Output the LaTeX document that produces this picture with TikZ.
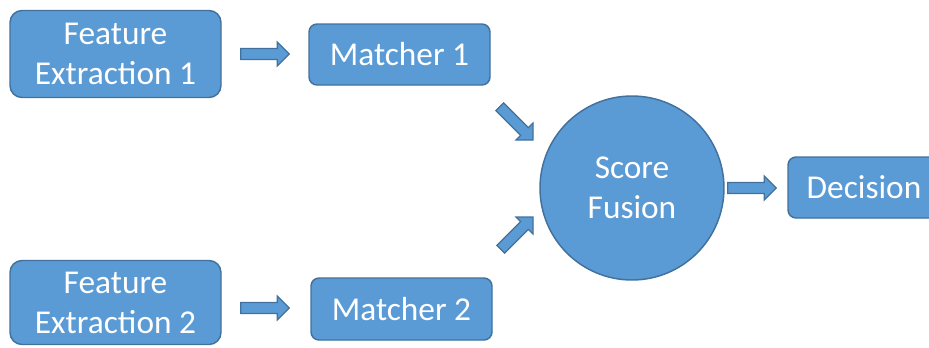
\documentclass[tikz,border=0pt]{standalone}
\usepackage{fontspec}
\setmainfont{Carlito}
\usetikzlibrary{calc}

\definecolor{boxfill}{HTML}{5B9BD5}
\definecolor{boxline}{HTML}{41719C}

% Block arrow from #1 (tail) to #2 (tip); shaft half width 4.1pt, head half width 9pt, head length 9pt
\newcommand\blockarrow[2]{%
  \coordinate (#1-hb) at ($(#2)!9pt!(#1)$);
  \filldraw[arrowbody]
    ($(#1)!4.1pt!90:(#2)$) -- ($(#1-hb)!4.1pt!-90:(#1)$) --
    ($(#1-hb)!9pt!-90:(#1)$) -- (#2) --
    ($(#1-hb)!9pt!90:(#1)$) -- ($(#1-hb)!4.1pt!90:(#1)$) --
    ($(#1)!4.1pt!-90:(#2)$) -- cycle;
}

\begin{document}
\begin{tikzpicture}[x=0.75pt,y=-0.75pt,
  every node/.style={font=\fontsize{25}{30}\selectfont, text=white},
  block/.style={draw=boxline, fill=boxfill, line width=1.1pt,
    rounded corners=#1, align=center, inner sep=0pt},
  block/.default=9pt,
  fusion/.style={circle, draw=boxline, fill=boxfill, line width=1.1pt,
    align=center, minimum size=184*0.75pt, inner sep=0pt},
  arrowbody/.style={draw=boxline, fill=boxfill, line width=0.9pt, line join=miter}]
\useasboundingbox (0,0) rectangle (929,347);

% processing blocks
\node[block, minimum width=211*0.75pt, minimum height=87*0.75pt] (fe1) at (115.5,54) {Feature\\Extraction 1};
\node[block, minimum width=211*0.75pt, minimum height=84*0.75pt] (fe2) at (115.5,302.5) {Feature\\Extraction 2};
\node[block=6pt, minimum width=181*0.75pt, minimum height=61*0.75pt] (m1) at (399.5,54.5) {Matcher 1};
\node[block=6pt, minimum width=181*0.75pt, minimum height=62*0.75pt] (m2) at (401.5,309) {Matcher 2};
\node[fusion] (fus) at (632,188) {Score\\Fusion};
\node[block=6pt, minimum width=152*0.75pt, minimum height=61*0.75pt] (dec) at (864,187.5) {Decision};

% arrow end points
\coordinate (a1) at ($(fe1.east)+(19,0)$);
\coordinate (b1) at ($(m1.west)+(-19,-0.5)$);
\coordinate (a2) at ($(fe2.east)+(19,5.5)$);
\coordinate (b2) at ($(m2.west)+(-21,-1)$);
\coordinate (a3) at ($(m1.south east)+(9,21)$);
\coordinate (b3) at ($(fus.center)+(-99,-48)$);
\coordinate (a4) at ($(m2.north east)+(8,-28)$);
\coordinate (b4) at ($(fus.center)+(-99,29)$);
\coordinate (a5) at ($(fus.east)+(3,0)$);
\coordinate (b5) at ($(dec.west)+(-11,0.5)$);

\blockarrow{a1}{b1}
\blockarrow{a2}{b2}
\blockarrow{a3}{b3}
\blockarrow{a4}{b4}
\blockarrow{a5}{b5}
\end{tikzpicture}
\end{document}
